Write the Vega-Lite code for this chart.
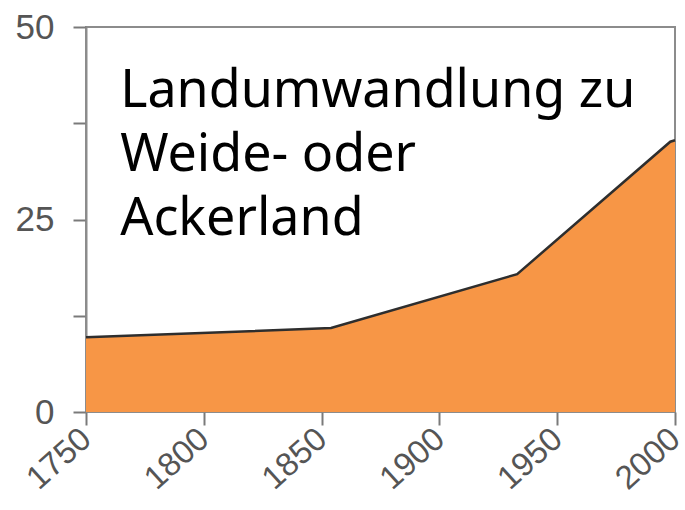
{
  "$schema": "https://vega.github.io/schema/vega-lite/v6.json",
  "width": 589,
  "height": 385,
  "autosize": {"type": "none"},
  "padding": {"left": 86, "top": 27, "right": 10, "bottom": 98},
  "background": "white",
  "config": {
    "view": {"stroke": "#8c8c8c", "strokeWidth": 2},
    "axis": {
      "grid": false,
      "domainColor": "#8c8c8c",
      "domainWidth": 2,
      "tickColor": "#7a7a7a",
      "tickWidth": 2,
      "tickSize": 13,
      "labelFont": "Liberation Sans",
      "labelFontSize": 35,
      "labelColor": "#555555",
      "title": null
    }
  },
  "datasets": {
    "series": [
      {"year": 1750, "value": 9.7},
      {"year": 1854, "value": 10.9},
      {"year": 1933, "value": 17.9},
      {"year": 1998, "value": 35.1},
      {"year": 2000, "value": 35.3}
    ],
    "note": [
      {"label": "Landumwandlung zu\nWeide- oder\nAckerland", "year": 1764.5, "value": 39.6}
    ]
  },
  "layer": [
    {
      "data": {"name": "series"},
      "mark": {"type": "area", "color": "#F79646", "opacity": 1, "line": {"color": "#2e2e2e", "strokeWidth": 2.5}},
      "encoding": {
        "x": {
          "field": "year",
          "type": "quantitative",
          "scale": {"domain": [1750, 2000], "nice": false, "zero": false},
          "axis": {"values": [1750, 1800, 1850, 1900, 1950, 2000], "format": "d", "labelAngle": -42, "labelAlign": "right", "labelBaseline": "middle", "labelPadding": 9, "labelOverlap": false, "labelFontSize": 33, "domain": false}
        },
        "y": {
          "field": "value",
          "type": "quantitative",
          "scale": {"domain": [0, 50], "nice": false},
          "axis": {"values": [0, 12.5, 25, 37.5, 50], "labelExpr": "datum.value % 25 == 0 ? datum.label : ''", "labelPadding": 19, "labelBaseline": "middle"}
        }
      }
    },
    {
      "data": {"name": "note"},
      "mark": {"type": "text", "align": "left", "baseline": "alphabetic", "font": "Noto Sans", "fontSize": 52, "lineHeight": 64, "lineBreak": "\n", "color": "black"},
      "encoding": {
        "x": {"field": "year", "type": "quantitative"},
        "y": {"field": "value", "type": "quantitative"},
        "text": {"field": "label"}
      }
    }
  ]
}
